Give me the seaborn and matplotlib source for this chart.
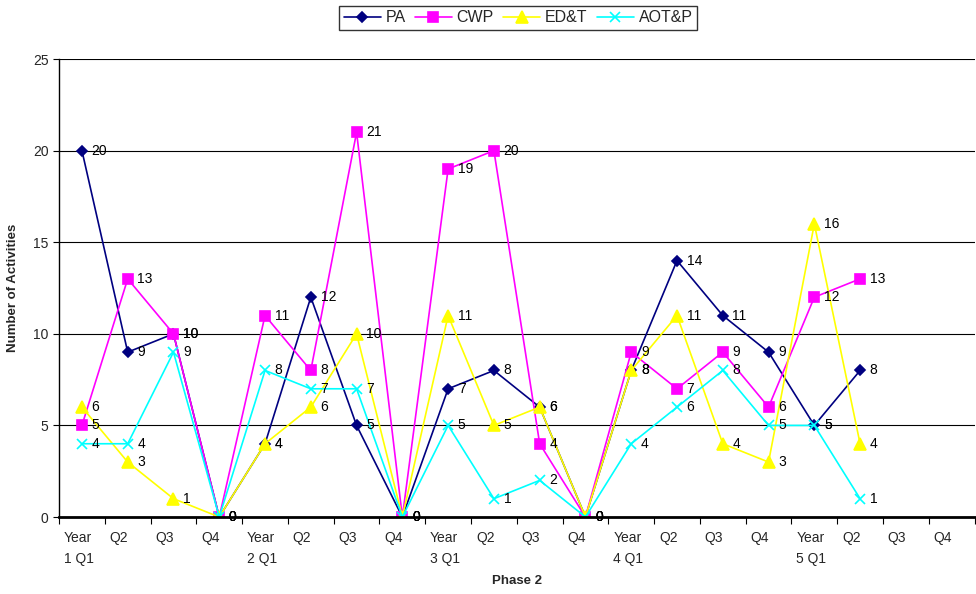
"""Phase 2 activities per quarter - line chart with point labels."""

import matplotlib
matplotlib.use("Agg")
import matplotlib.pyplot as plt
import matplotlib.transforms as mtrans
import numpy as np
import pandas as pd
import seaborn as sns

quarters = [
    "Year\n1 Q1", "Q2", "Q3", "Q4",
    "Year\n2 Q1", "Q2", "Q3", "Q4",
    "Year\n3 Q1", "Q2", "Q3", "Q4",
    "Year\n4 Q1", "Q2", "Q3", "Q4",
    "Year\n5 Q1", "Q2", "Q3", "Q4",
]
pa = [20, 9, 10, 0, 4, 12, 5, 0, 7, 8, 6, 0, 8, 14, 11, 9, 5, 8]
cwp = [5, 13, 10, 0, 11, 8, 21, 0, 19, 20, 4, 0, 9, 7, 9, 6, 12, 13]
edt = [6, 3, 1, 0, 4, 6, 10, 0, 11, 5, 6, 0, 8, 11, 4, 3, 16, 4]
aotp = [4, 4, 9, 0, 8, 7, 7, 0, 5, 1, 2, 0, 4, 6, 8, 5, 5, 1]

series = {"PA": pa, "CWP": cwp, "ED&T": edt, "AOT&P": aotp}
styles = {
    "PA": dict(color="#000080", marker="D", ms=5),
    "CWP": dict(color="#ff00ff", marker="s", ms=7),
    "ED&T": dict(color="#ffff00", marker="^", ms=8),
    "AOT&P": dict(color="#00ffff", marker="x", ms=7),
}

sns.set_style("white")
plt.rcParams["font.family"] = ["Liberation Sans", "DejaVu Sans"]

fig = plt.figure(figsize=(9.76, 5.94), dpi=100)
ax = fig.add_axes([0.0605, 0.1296, 0.938, 0.771])

for name, vals in series.items():
    st = styles[name]
    df = pd.DataFrame({"x": np.arange(len(vals)), "y": vals})
    sns.lineplot(data=df, x="x", y="y", ax=ax, color=st["color"], lw=1.2,
                 marker=st["marker"], markersize=st["ms"],
                 markeredgecolor=st["color"], markeredgewidth=1.2,
                 label=name, legend=False)

for name, vals in series.items():
    for i, v in enumerate(vals):
        ax.annotate(str(v), (i, v), xytext=(7, 0), textcoords="offset points",
                    va="center", ha="left", fontsize=10, color="black")

ax.set_xlim(-0.5, len(quarters) - 0.5)
ax.set_ylim(0, 25)
ax.set_yticks(range(0, 26, 5))
ax.yaxis.grid(True, color="black", lw=0.8)
ax.set_axisbelow(True)
ax.set_xticks(range(len(quarters)))
ax.set_xticklabels(quarters, fontsize=10, linespacing=1.6)
ax.set_xticks(np.arange(-0.5, len(quarters)), minor=True)
ax.tick_params(axis="x", which="major", length=0, pad=10)
ax.tick_params(axis="x", which="minor", length=5, width=0.8, color="black",
               direction="out", bottom=True)
ax.tick_params(axis="y", length=4, width=0.8, color="black", direction="out",
               left=True, labelsize=10)
offset = mtrans.ScaledTranslation(-0.18, 0, fig.dpi_scale_trans)
for lab in ax.get_xticklabels():
    lab.set_horizontalalignment("left")
    lab.set_transform(lab.get_transform() + offset)

for s in ["top", "right"]:
    ax.spines[s].set_visible(False)
ax.spines["left"].set_color("black")
ax.spines["left"].set_linewidth(1)
ax.spines["bottom"].set_color("black")
ax.spines["bottom"].set_linewidth(2)

ax.set_xlabel("Phase 2", fontsize=9.5, fontweight="bold", labelpad=7)
ax.set_ylabel("Number of Activities", fontsize=9.5, fontweight="bold", labelpad=10)

handles, labels = ax.get_legend_handles_labels()
leg = fig.legend(handles, labels, loc="upper center", bbox_to_anchor=(0.531, 1.004),
                 ncol=4, fontsize=11.5, frameon=True, fancybox=False,
                 edgecolor="black", borderpad=0.3, handlelength=2.3,
                 columnspacing=0.6, handletextpad=0.3)
leg.get_frame().set_linewidth(1)

fig.savefig("out.png", dpi=100)
